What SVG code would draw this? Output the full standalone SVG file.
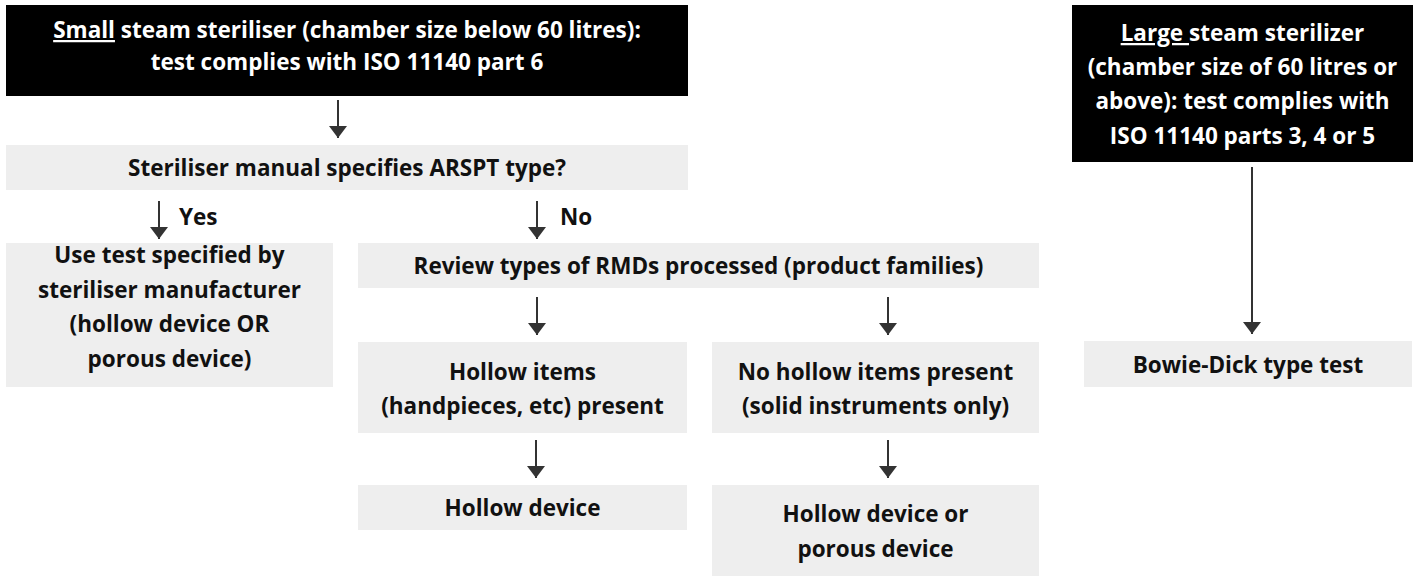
<svg xmlns="http://www.w3.org/2000/svg" width="1416" height="576" viewBox="0 0 1416 576">
<defs>
<style>
.dark{fill:#000000}
.light{fill:#eeeeee}
.t{font-family:"Open Sans","Liberation Sans",sans-serif;font-weight:700;font-size:22.5px;text-anchor:middle}
.tw{fill:#ffffff}
.tb{fill:#111111}
.lbl{font-family:"Open Sans","Liberation Sans",sans-serif;font-weight:700;font-size:22.5px;fill:#111111}
.c{stroke:#333333;stroke-width:2;fill:none;marker-end:url(#ah)}
</style>
<marker id="ah" markerUnits="userSpaceOnUse" markerWidth="12" markerHeight="18" viewBox="0 0 12 18" refX="12" refY="9" orient="auto">
<path d="M0,0 L12,9 L0,18 Z" fill="#333333"/>
</marker>
</defs>
<rect width="1416" height="576" fill="#ffffff"/>

<g id="connectors">
<line class="c" x1="338" y1="100" x2="338" y2="138"/>
<line class="c" x1="159" y1="201" x2="159" y2="239"/>
<line class="c" x1="537" y1="201" x2="537" y2="239"/>
<line class="c" x1="537" y1="297" x2="537" y2="335"/>
<line class="c" x1="888" y1="297" x2="888" y2="335"/>
<line class="c" x1="536" y1="440" x2="536" y2="478"/>
<line class="c" x1="888" y1="440" x2="888" y2="478"/>
<line class="c" x1="1252" y1="167" x2="1252" y2="334"/>
<text class="lbl" x="179" y="225">Yes</text>
<text class="lbl" x="560" y="225">No</text>
</g>

<g id="small-steriliser">
<rect class="dark" x="6" y="5" width="682" height="91"/>
<text class="t tw" x="347" y="38"><tspan text-decoration="underline">Small</tspan> steam steriliser (chamber size below 60 litres):</text>
<text class="t tw" x="347" y="70">test complies with ISO 11140 part 6</text>
</g>

<g id="manual-question">
<rect class="light" x="6" y="145" width="682" height="45"/>
<text class="t tb" x="347" y="176">Steriliser manual specifies ARSPT type?</text>
</g>

<g id="use-test">
<rect class="light" x="6" y="243" width="327" height="144"/>
<text class="t tb" x="169.5" y="263">Use test specified by</text>
<text class="t tb" x="169.5" y="298">steriliser manufacturer</text>
<text class="t tb" x="169.5" y="332">(hollow device OR</text>
<text class="t tb" x="169.5" y="367">porous device)</text>
</g>

<g id="review">
<rect class="light" x="358" y="243" width="681" height="45"/>
<text class="t tb" x="698.5" y="274">Review types of RMDs processed (product families)</text>
</g>

<g id="hollow-items">
<rect class="light" x="358" y="342" width="329" height="91"/>
<text class="t tb" x="522.5" y="380">Hollow items</text>
<text class="t tb" x="522.5" y="414">(handpieces, etc) present</text>
</g>

<g id="no-hollow">
<rect class="light" x="712" y="342" width="327" height="91"/>
<text class="t tb" x="875.5" y="380">No hollow items present</text>
<text class="t tb" x="875.5" y="414">(solid instruments only)</text>
</g>

<g id="hollow-device">
<rect class="light" x="358" y="485" width="329" height="45"/>
<text class="t tb" x="522.5" y="516">Hollow device</text>
</g>

<g id="hollow-or-porous">
<rect class="light" x="712" y="485" width="327" height="91"/>
<text class="t tb" x="875.5" y="522">Hollow device or</text>
<text class="t tb" x="875.5" y="557">porous device</text>
</g>

<g id="large-steriliser">
<rect class="dark" x="1072" y="5" width="341" height="157"/>
<text class="t tw" x="1242.5" y="41"><tspan text-decoration="underline">Large </tspan>steam sterilizer</text>
<text class="t tw" x="1242.5" y="75">(chamber size of 60 litres or</text>
<text class="t tw" x="1242.5" y="109">above): test complies with</text>
<text class="t tw" x="1242.5" y="144">ISO 11140 parts 3, 4 or 5</text>
</g>

<g id="bowie-dick">
<rect class="light" x="1084" y="341" width="328" height="46"/>
<text class="t tb" x="1248" y="373">Bowie-Dick type test</text>
</g>
</svg>
